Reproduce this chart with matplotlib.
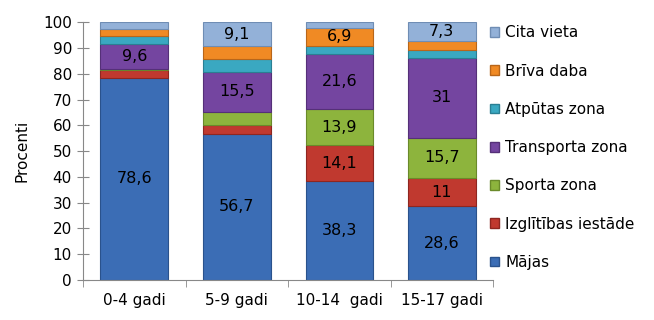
import numpy as np
import matplotlib.pyplot as plt
from matplotlib.patches import Patch

# Vecuma grupas un vietas
grupas = ["0-4 gadi", "5-9 gadi", "10-14  gadi", "15-17 gadi"]
vietas = ["Mājas", "Izglītības iestāde", "Sporta zona", "Transporta zona",
          "Atpūtas zona", "Brīva daba", "Cita vieta"]

# Procenti katrai vietai (no apakšas uz augšu)
majas = [78.6, 56.7, 38.3, 28.6]
izglitiba = [3.0, 3.3, 14.1, 11.0]
sports = [0.4, 5.3, 13.9, 15.7]
transports = [9.6, 15.5, 21.6, 31.0]
atputa = [3.0, 5.1, 3.0, 3.0]
daba = [3.0, 5.0, 6.9, 3.4]
cita = [2.4, 9.1, 2.2, 7.3]

# Kuras vērtības parādīt uz stabiņiem
etiketes = {
    "Mājas": [True, True, True, True],
    "Izglītības iestāde": [False, False, True, True],
    "Sporta zona": [False, False, True, True],
    "Transporta zona": [True, True, True, True],
    "Atpūtas zona": [False, False, False, False],
    "Brīva daba": [False, False, True, False],
    "Cita vieta": [False, True, False, True],
}

krasas = ["#3b6db5", "#c0392f", "#8db43d", "#7445a0", "#3aa8c1", "#f08a24", "#93b1d8"]
malas = ["#2a528c", "#8e2620", "#6a8a2a", "#553078", "#2a7f93", "#b8661a", "#6f8db4"]

dati = [majas, izglitiba, sports, transports, atputa, daba, cita]

plt.rcParams['font.family'] = ['DejaVu Sans']
fig = plt.figure(figsize=(6.54, 3.2), dpi=100)
ax = fig.add_axes([0.127, 0.125, 0.627, 0.805])

x = np.arange(len(grupas))
apaksa = np.zeros(len(grupas))
for nosaukums, vertibas, k, m in zip(vietas, dati, krasas, malas):
    vertibas = np.array(vertibas)
    ax.bar(x, vertibas, bottom=apaksa, width=0.66, color=k, edgecolor=m,
           linewidth=0.8, label=nosaukums)
    for i, v in enumerate(vertibas):
        if etiketes[nosaukums][i]:
            teksts = ("%g" % v).replace(".", ",")
            ax.text(x[i], apaksa[i] + v / 2, teksts, ha="center", va="center",
                    fontsize=11.5, color="black")
    apaksa += vertibas

ax.set_ylim(0, 100)
ax.set_xlim(-0.5, len(grupas) - 0.5)
ax.set_yticks(range(0, 101, 10))
ax.set_xticks(x)
ax.set_xticklabels(grupas, fontsize=11)
ax.set_xticks(np.arange(-0.5, len(grupas)), minor=True)
ax.tick_params(axis="x", which="major", length=0, pad=9)
ax.tick_params(axis="x", which="minor", length=5, color="#888888")
ax.tick_params(axis="y", direction="inout", length=8, color="#888888",
               labelsize=11, pad=4)
for s in ["top", "right"]:
    ax.spines[s].set_visible(False)
ax.spines["left"].set_color("#888888")
ax.spines["bottom"].set_color("#888888")
ax.set_ylabel("Procenti", fontsize=11, labelpad=10)

rokturi = [Patch(facecolor=k, edgecolor=m) for k, m in zip(krasas, malas)]
ax.legend(rokturi[::-1], vietas[::-1], loc="upper left",
          bbox_to_anchor=(0.985, 1.0), frameon=False, fontsize=11,
          handlelength=0.6, handleheight=0.6, handletextpad=0.4,
          labelspacing=1.52, borderaxespad=0, borderpad=0.2)

fig.savefig("out.png", dpi=100)
